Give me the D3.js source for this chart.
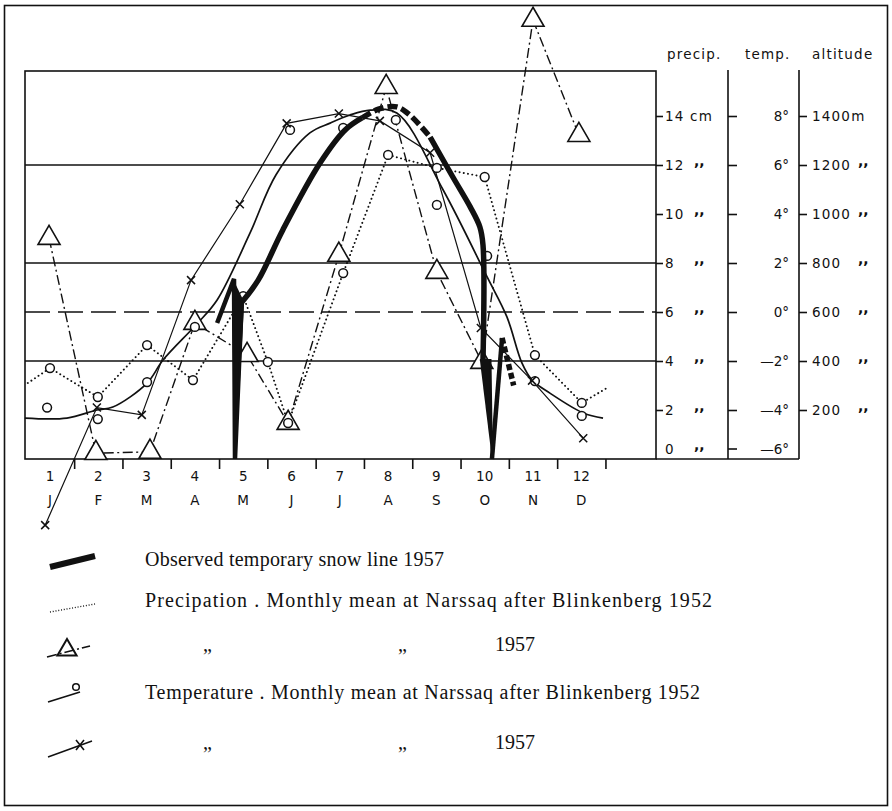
<!DOCTYPE html>
<html>
<head>
<meta charset="utf-8">
<script src="https://cdn.jsdelivr.net/npm/d3@7"></script>
<style>
  html, body { margin: 0; padding: 0; background: #fff; }
  svg { display: block; }
  .sans { font-family: "DejaVu Sans", sans-serif; font-size: 13.5px; fill: #111; }
  .spaced { letter-spacing: 1.2px; }
  .ditto { font-family: "DejaVu Sans", sans-serif; font-size: 14px; font-weight: bold; fill: #111; }
  .serif { font-family: "Liberation Serif", serif; font-size: 20px; fill: #111; }
</style>
</head>
<body>
<svg id="chart" width="892" height="811"></svg>
<script>
// ---- data ----
const months = [1, 2, 3, 4, 5, 6, 7, 8, 9, 10, 11, 12]
const monthLetters = ["J", "F", "M", "A", "M", "J", "J", "A", "S", "O", "N", "D"]
const precipTicks = [0, 2, 4, 6, 8, 10, 12, 14]        // cm
const tempTicks = [-6, -4, -2, 0, 2, 4, 6, 8]          // deg C
const altTicks = [200, 400, 600, 800, 1000, 1200, 1400] // m
const gridCm = [4, 8, 12]                              // solid horizontal rules
const zeroDeg = 0                                      // dashed rule

// precipitation, monthly mean after Blinkenberg 1952 (cm) : [month, value]
const precipMeanPts = [[1.0, 3.71], [1.99, 2.53], [3.01, 4.65], [3.96, 3.22], [5.0, 6.65], [5.51, 3.96],
  [5.93, 1.47], [7.07, 7.59], [8.0, 12.41], [9.01, 11.88], [10.0, 11.51], [11.04, 4.24], [12.01, 2.29]]
const precipMeanEnds = [[0.54, 3.1], [12.53, 2.9]]

// precipitation 1957 (cm)
const precip57 = [[0.98, 9.02], [1.95, 0.24], [3.07, 0.29], [4.0, 5.55], [5.08, 4.24], [5.93, 1.47],
  [6.98, 8.33], [7.96, 15.18], [9.01, 7.63], [9.94, 3.96], [11.0, 17.92], [11.95, 13.22]]

// temperature, monthly mean after Blinkenberg 1952 (deg C) - observed points
const tempMeanPts = [[0.94, -3.9], [1.99, -4.37], [3.01, -2.86], [4.0, -0.61], [5.97, 7.43],
  [7.07, 7.51], [8.16, 7.84], [9.01, 4.37], [10.05, 2.29], [11.04, -2.82], [12.01, -4.24]]
// smoothed mean temperature curve (deg C)
const tempMeanCurve = [[0.48, -4.33], [1.35, -4.33], [1.97, -4.0], [2.3, -3.88], [3.01, -2.9], [3.34, -1.96],
  [4.04, -0.49], [4.46, 0.49], [5.14, 3.22], [5.68, 5.6], [6.38, 7.31], [6.8, 7.71],
  [7.21, 8.04], [7.63, 8.24], [8.18, 8.12], [9.14, 4.98], [10.05, 1.43], [10.46, -0.2], [10.77, -2.08],
  [10.98, -2.78], [11.35, -3.31], [12.04, -4.12], [12.45, -4.33]]

// temperature 1957 (deg C)
const temp57 = [[0.9, -8.7], [1.97, -3.9], [2.9, -4.2], [3.92, 1.3], [4.93, 4.4], [5.9, 7.7],
  [6.98, 8.1], [7.83, 7.8], [8.87, 6.5], [9.92, -0.65], [10.98, -2.8], [12.04, -5.15]]

// observed temporary snow line 1957 (m)
const snowRise = [[4.46, 555], [4.81, 735], [4.83, 0], [4.97, 640]]
const snowWedgeMay = [[4.79, 735], [4.83, 0], [5.0, 649]]
const snowClimb = [[4.97, 640], [5.31, 730], [5.82, 935], [6.59, 1208], [7.11, 1343], [7.46, 1392]]
const snowPeak = [[7.46, 1392], [7.8, 1428], [8.18, 1437], [8.45, 1404], [8.87, 1314]]
const snowFall = [[8.87, 1314], [9.34, 1151], [9.7, 1029], [9.9, 947], [9.965, 873], [9.965, 404]]
const snowWedgeOct = [[9.9, 404], [10.12, 404], [10.15, 0]]
const snowOctRise = [[10.15, 0], [10.36, 494]]
const snowOctEnd = [[10.36, 494], [10.6, 300]]

// ---- layout ----
const svg = d3.select("#chart")
const ink = "#111"
const frame = {left: 25, right: 656, top: 71, bottom: 459}
const tempAxisX = 728, altAxisX = 799, axisTop = 70
const lift = 10   // lowest scale labels sit a little above the base rule

const x = d3.scaleLinear().domain([1, 12]).range([50, 581.3])
const yP = d3.scaleLinear().domain([0, 14]).range([459, 116])
const yT = d3.scaleLinear().domain([-6, 8]).range([459, 116])
const yA = d3.scaleLinear().domain([0, 1400]).range([459, 116])

// outer border
svg.append("rect").attr("x", 4.5).attr("y", 5.5).attr("width", 883).attr("height", 800)
  .attr("fill", "none").attr("stroke", ink).attr("stroke-width", 1.6)

// grid rules
svg.append("g").selectAll("line").data(gridCm).join("line")
  .attr("x1", frame.left).attr("x2", frame.right)
  .attr("y1", d => yP(d)).attr("y2", d => yP(d))
  .attr("stroke", ink).attr("stroke-width", 1.4)
svg.append("line")
  .attr("x1", frame.left).attr("x2", frame.right)
  .attr("y1", yT(zeroDeg)).attr("y2", yT(zeroDeg))
  .attr("stroke", ink).attr("stroke-width", 1.4).attr("stroke-dasharray", "25,8")

// plot frame
svg.append("rect").attr("x", frame.left).attr("y", frame.top)
  .attr("width", frame.right - frame.left).attr("height", frame.bottom - frame.top)
  .attr("fill", "none").attr("stroke", ink).attr("stroke-width", 1.6)

// right-hand scales: verticals and base rule
svg.append("g").selectAll("line").data([tempAxisX, altAxisX]).join("line")
  .attr("x1", d => d).attr("x2", d => d).attr("y1", axisTop).attr("y2", frame.bottom)
  .attr("stroke", ink).attr("stroke-width", 1.6)
svg.append("line").attr("x1", frame.right).attr("x2", altAxisX)
  .attr("y1", frame.bottom).attr("y2", frame.bottom).attr("stroke", ink).attr("stroke-width", 1.6)

// x axis ticks between months
const xAxis = svg.append("g").attr("transform", `translate(0,${frame.bottom})`)
  .call(d3.axisBottom(x).tickValues(months.map(m => m + 0.5)).tickSize(10).tickFormat(""))
xAxis.select(".domain").remove()
xAxis.selectAll("line").attr("stroke", ink).attr("stroke-width", 1.6)

svg.append("g").selectAll("text").data(months).join("text")
  .attr("class", "sans").attr("x", d => x(d)).attr("y", 481).attr("text-anchor", "middle")
  .text(d => d)
svg.append("g").selectAll("text").data(monthLetters).join("text")
  .attr("class", "sans").attr("x", (d, i) => x(months[i])).attr("y", 505).attr("text-anchor", "middle")
  .text(d => d)

// precipitation scale
const pAxis = svg.append("g").attr("transform", `translate(${frame.right},0)`)
  .call(d3.axisRight(yP).tickValues(precipTicks.filter(d => d > 0)).tickSize(7).tickFormat(""))
pAxis.select(".domain").remove()
pAxis.selectAll("line").attr("stroke", ink).attr("stroke-width", 1.6)
svg.append("g").selectAll("text").data(precipTicks).join("text")
  .attr("class", "sans spaced").attr("x", 665).attr("y", d => yP(d) - (d === 0 ? lift : 0))
  .attr("dy", "0.36em").text(d => d === 14 ? "14 cm" : d)
svg.append("g").selectAll("text").data(precipTicks.filter(d => d !== 14)).join("text")
  .attr("class", "ditto").attr("x", 694).attr("y", d => yP(d) - (d === 0 ? lift : 0))
  .attr("dy", "0.1em").text(",,")

// temperature scale
const tAxis = svg.append("g").attr("transform", `translate(${tempAxisX},0)`)
  .call(d3.axisRight(yT).tickValues(tempTicks).tickSize(9).tickFormat(""))
tAxis.select(".domain").remove()
tAxis.selectAll(".tick").filter(d => d === -6).attr("transform", `translate(0,${yT(-6) - lift})`)
tAxis.selectAll("line").attr("stroke", ink).attr("stroke-width", 1.6)
svg.append("g").selectAll("text").data(tempTicks).join("text")
  .attr("class", "sans").attr("x", 789).attr("y", d => yT(d) - (d === -6 ? lift : 0))
  .attr("dy", "0.36em").attr("text-anchor", "end")
  .text(d => d < 0 ? "\u2014" + (-d) + "\u00b0" : d + "\u00b0")

// altitude scale
const aAxis = svg.append("g").attr("transform", `translate(${altAxisX},0)`)
  .call(d3.axisRight(yA).tickValues(altTicks).tickSize(8).tickFormat(""))
aAxis.select(".domain").remove()
aAxis.selectAll("line").attr("stroke", ink).attr("stroke-width", 1.6)
svg.append("g").selectAll("text").data(altTicks).join("text")
  .attr("class", "sans spaced").attr("x", 812).attr("y", d => yA(d))
  .attr("dy", "0.36em").text(d => d === 1400 ? "1400m" : d)
svg.append("g").selectAll("text").data(altTicks.filter(d => d !== 1400)).join("text")
  .attr("class", "ditto").attr("x", 858).attr("y", d => yA(d))
  .attr("dy", "0.1em").text(",,")

// scale headers
svg.append("g").selectAll("text")
  .data([["precip.", 667], ["temp.", 745], ["altitude", 812]]).join("text")
  .attr("class", "sans spaced").attr("x", d => d[1]).attr("y", 59).text(d => d[0])

// ---- series ----
const lineP = d3.line().x(d => x(d[0])).y(d => yP(d[1]))
const lineT = d3.line().x(d => x(d[0])).y(d => yT(d[1]))
const lineA = d3.line().x(d => x(d[0])).y(d => yA(d[1]))
const smoothT = d3.line().curve(d3.curveCatmullRom.alpha(0.5)).x(d => x(d[0])).y(d => yT(d[1]))
const smoothA = d3.line().curve(d3.curveCatmullRom.alpha(0.5)).x(d => x(d[0])).y(d => yA(d[1]))

const series = svg.append("g").attr("fill", "none").attr("stroke", ink)

// precipitation mean: dotted
series.append("path")
  .datum([precipMeanEnds[0], ...precipMeanPts, precipMeanEnds[1]])
  .attr("d", lineP).attr("stroke-width", 1.9).attr("stroke-linecap", "round")
  .attr("stroke-dasharray", "0.1,4.2")

// precipitation 1957: dash-dot
series.append("path").datum(precip57).attr("d", lineP)
  .attr("stroke-width", 1.4).attr("stroke-dasharray", "10,3.5,2,3.5")

// temperature 1957: thin solid
series.append("path").datum(temp57).attr("d", lineT).attr("stroke-width", 1.2)

// temperature mean: smooth curve
series.append("path").datum(tempMeanCurve).attr("d", smoothT).attr("stroke-width", 1.7)

// markers
svg.append("g").selectAll("path").data(precip57).join("path")
  .attr("transform", d => `translate(${x(d[0])},${yP(d[1])})`)
  .attr("d", d3.symbol(d3.symbolTriangle, 210))
  .attr("fill", "#fff").attr("stroke", ink).attr("stroke-width", 1.6)

svg.append("g").selectAll("circle").data(precipMeanPts).join("circle")
  .attr("cx", d => x(d[0])).attr("cy", d => yP(d[1])).attr("r", 4.4)
  .attr("fill", "#fff").attr("stroke", ink).attr("stroke-width", 1.5)

svg.append("g").selectAll("circle").data(tempMeanPts).join("circle")
  .attr("cx", d => x(d[0])).attr("cy", d => yT(d[1])).attr("r", 4.4)
  .attr("fill", "#fff").attr("stroke", ink).attr("stroke-width", 1.5)

svg.append("g").selectAll("path").data(temp57).join("path")
  .attr("transform", d => `translate(${x(d[0])},${yT(d[1])})`)
  .attr("d", "M-4,-4L4,4M-4,4L4,-4")
  .attr("fill", "none").attr("stroke", ink).attr("stroke-width", 1.5)

// snow line 1957: heavy line
const snow = svg.append("g").attr("fill", "none").attr("stroke", ink).attr("stroke-width", 5.5)
snow.append("path").datum(snowRise).attr("d", lineA).attr("stroke-width", 4.5)
snow.append("path").datum(snowWedgeMay).attr("d", lineA).attr("fill", ink).attr("stroke-width", 2)
snow.append("path").datum(snowClimb).attr("d", smoothA)
snow.append("path").datum(snowPeak).attr("d", smoothA).attr("stroke-dasharray", "10,4")
snow.append("path").datum(snowFall).attr("d", smoothA)
snow.append("path").datum(snowWedgeOct).attr("d", lineA).attr("fill", ink).attr("stroke-width", 2)
snow.append("path").datum(snowOctRise).attr("d", lineA).attr("stroke-width", 4.5)
snow.append("path").datum(snowOctEnd).attr("d", lineA).attr("stroke-dasharray", "6,3")

// ---- legend ----
const legend = svg.append("g")
legend.append("line").attr("x1", 50).attr("y1", 567).attr("x2", 95).attr("y2", 556)
  .attr("stroke", ink).attr("stroke-width", 6)
legend.append("line").attr("x1", 50).attr("y1", 612).attr("x2", 95).attr("y2", 604)
  .attr("stroke", ink).attr("stroke-width", 1.4).attr("stroke-dasharray", "1,1.8")
legend.append("line").attr("x1", 47).attr("y1", 657).attr("x2", 90).attr("y2", 646)
  .attr("stroke", ink).attr("stroke-width", 1.6).attr("stroke-dasharray", "10,3,2,3")
legend.append("path").attr("transform", "translate(67,650)")
  .attr("d", d3.symbol(d3.symbolTriangle, 160)).attr("fill", "none").attr("stroke", ink).attr("stroke-width", 2)
legend.append("line").attr("x1", 48).attr("y1", 702).attr("x2", 80).attr("y2", 692)
  .attr("stroke", ink).attr("stroke-width", 1.8)
legend.append("circle").attr("cx", 76).attr("cy", 687).attr("r", 3.3)
  .attr("fill", "#fff").attr("stroke", ink).attr("stroke-width", 1.5)
legend.append("line").attr("x1", 48).attr("y1", 757).attr("x2", 92).attr("y2", 741)
  .attr("stroke", ink).attr("stroke-width", 1.6)
legend.append("path").attr("transform", "translate(80,745)")
  .attr("d", "M-4,-5L4,5M-4,5L4,-5").attr("fill", "none").attr("stroke", ink).attr("stroke-width", 1.6)

const legendText = [
  ["Observed temporary snow line 1957", 566, 299],
  ["Precipation . Monthly mean at Narssaq after Blinkenberg 1952", 607, 567],
  ["Temperature . Monthly mean at Narssaq after  Blinkenberg 1952", 699, 555]
]
legend.selectAll("text.row").data(legendText).join("text")
  .attr("class", "serif row").attr("x", 145).attr("y", d => d[1])
  .attr("textLength", d => d[2]).attr("lengthAdjust", "spacing")
  .text(d => d[0])

const dittoRows = [651, 749]
dittoRows.forEach(yy => {
  legend.append("text").attr("class", "serif").attr("x", 203).attr("y", yy).text("\u201e")
  legend.append("text").attr("class", "serif").attr("x", 398).attr("y", yy).text("\u201e")
  legend.append("text").attr("class", "serif").attr("x", 495).attr("y", yy).text("1957")
})
</script>
</body>
</html>
